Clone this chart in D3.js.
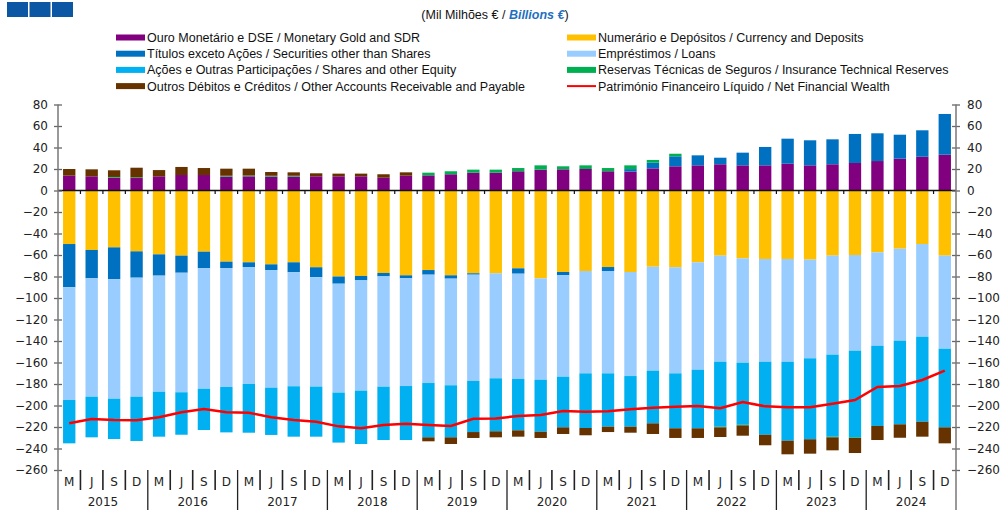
<!DOCTYPE html>
<html>
<head>
<meta charset="utf-8">
<script src="https://cdn.jsdelivr.net/npm/d3@7"></script>
<style>
  body { margin: 0; background: #fff; }
  svg { display: block; }
  .tick text { font-family: "DejaVu Sans", sans-serif; font-size: 12px; fill: #222; }
  .leg text { font-family: "Liberation Sans", Arial, sans-serif; font-size: 12.5px; fill: #111; }
</style>
</head>
<body>
<div id="chart"></div>
<script>
// quarters and years
var quarters = ["M", "J", "S", "D"];
var years = ["2015", "2016", "2017", "2018", "2019", "2020", "2021", "2022", "2023", "2024"];
var yTicks = [80, 60, 40, 20, 0, -20, -40, -60, -80, -100, -120, -140, -160, -180, -200, -220, -240, -260];

// series values (Mil Milhões €), one per quarter, 2015 M .. 2024 D
var gold = [13.8, 13.2, 11.9, 11.6, 13.2, 14.4, 14.4, 12.9, 13.2, 12.9, 12.9, 13.2, 13.2, 13.2, 11.9, 13.8, 14.1, 15.1, 16.6, 16.6,
            17.9, 19.4, 19.7, 20.0, 17.9, 17.6, 20.6, 22.5, 23.4, 24.4, 23.4, 23.4, 24.9, 23.4, 24.4, 25.6, 27.4, 29.6, 31.4, 33.3];
var currency = [-49.8, -55.3, -52.9, -56.6, -59.4, -60.6, -56.9, -66.2, -66.8, -68.7, -66.8, -71.4, -80.0, -79.5, -76.7, -78.9, -74.0, -78.9, -77.0, -77.0,
                -72.4, -81.7, -75.8, -74.9, -71.2, -75.8, -70.9, -71.4, -66.8, -60.6, -63.1, -63.7, -63.7, -64.3, -60.6, -60.0, -57.5, -54.1, -49.8, -60.6];
var securities = [-40.2, -26.4, -29.7, -24.5, -19.8, -15.9, -15.5, -5.9, -4.4, -5.3, -9.3, -9.3, -6.7, -4.1, -3.2, -2.8, -4.3, -3.1, -1.3, 0,
                  -5.0, 0, -3.1, 0, -3.7, 2.3, 5.3, 9.3, 9.3, 6.1, 11.8, 17.1, 23.3, 23.3, 23.2, 27.0, 25.8, 22.3, 24.6, 37.9];
var loans = [-104.9, -110.1, -111.1, -110.7, -108.0, -111.2, -112.0, -110.7, -108.8, -109.4, -106.0, -101.7, -101.3, -102.6, -102.6, -100.2, -100.8, -99.2, -98.9, -97.7,
             -97.9, -94.3, -94.3, -95.2, -95.2, -96.8, -96.7, -98.7, -99.9, -98.7, -97.1, -95.6, -95.6, -91.8, -92.1, -89.0, -86.9, -85.6, -86.2, -86.6];
var shares = [-40.3, -37.8, -37.5, -41.2, -41.8, -39.5, -38.4, -42.2, -45.3, -44.0, -46.9, -46.6, -46.5, -49.6, -49.6, -50.2, -50.5, -48.4, -47.5, -49.3,
              -47.8, -48.4, -47.1, -50.8, -49.6, -47.1, -49.0, -51.1, -54.5, -60.4, -57.7, -67.9, -73.4, -75.3, -76.3, -80.6, -74.6, -77.8, -79.1, -73.1];
var insurance = [0, 0, 0.7, 0.6, 0, 0, 0, 0.8, 0.7, 0.8, 0.8, 0, 0, 0, 0, 0, 2.5, 2.8, 2.8, 2.8,
                 3.0, 4.0, 2.8, 3.4, 3.0, 3.5, 2.5, 2.4, 0, -0.6, -0.6, 0, 0, 0, -0.6, -0.6, 0, 0, 0, 0];
var other = [6.2, 6.5, 6.2, 9.0, 5.8, 7.5, 6.5, 6.6, 6.4, 3.5, 3.2, 2.8, 2.5, 2.5, 3.2, 3.1, -3.7, -6.2, -5.5, -5.6,
             -5.9, -5.8, -6.2, -6.8, -5.0, -5.6, -9.9, -9.0, -9.0, -9.0, -9.6, -9.8, -12.7, -13.4, -12.1, -14.0, -13.1, -12.5, -13.9, -14.9];
var netWealth = [-216.6, -212.6, -213.5, -213.8, -211.0, -206.3, -203.3, -206.3, -206.7, -211.0, -213.5, -215.1, -219.4, -221.2, -218.1, -216.9, -218.1, -219.0, -212.3, -212.0,
                 -209.8, -208.8, -205.1, -205.7, -205.4, -203.5, -202.0, -201.1, -200.5, -202.6, -196.7, -200.8, -201.7, -201.7, -198.3, -194.9, -182.8, -181.9, -176.3, -167.6];

// stack order and colours
var keys = ["gold", "currency", "securities", "loans", "shares", "insurance", "other"];
var colors = {
  gold: "#800080", currency: "#ffc000", securities: "#0070c0", loans: "#99ccff",
  shares: "#00b0f0", insurance: "#00b050", other: "#663300"
};
var legendItems = [
  { key: "gold", label: "Ouro Monetário e DSE / Monetary Gold and SDR" },
  { key: "currency", label: "Numerário e Depósitos / Currency and Deposits" },
  { key: "securities", label: "Títulos exceto Ações / Securities other than Shares" },
  { key: "loans", label: "Empréstimos / Loans" },
  { key: "shares", label: "Ações e Outras Participações / Shares and other Equity" },
  { key: "insurance", label: "Reservas Técnicas de Seguros / Insurance Technical Reserves" },
  { key: "other", label: "Outros Débitos e Créditos / Other Accounts Receivable and Payable" },
  { key: "line", label: "Património Financeiro Líquido / Net Financial Wealth" }
];

var width = 1000, height = 510;
var left = 58, right = 956;

// build rows for d3.stack
var series = { gold: gold, currency: currency, securities: securities, loans: loans, shares: shares, insurance: insurance, other: other };
var labels = [];
years.forEach(function (yr) { quarters.forEach(function (q) { labels.push(q + " " + yr); }); });
var rows = labels.map(function (lab, i) {
  var r = { label: lab, i: i };
  keys.forEach(function (k) { r[k] = series[k][i]; });
  return r;
});

var stacked = d3.stack().keys(keys).offset(d3.stackOffsetDiverging)(rows);

var x = d3.scaleBand()
  .domain(d3.range(rows.length))
  .range([left, right])
  .paddingInner(0.45)
  .paddingOuter(0.225);
var step = x.step();

var y = d3.scaleLinear().domain([-260, 80]).range([470, 104.5]);

var svg = d3.select("#chart").append("svg")
  .attr("width", width)
  .attr("height", height);

// header blocks
svg.selectAll("rect.hdr")
  .data([0, 1, 2])
  .enter().append("rect")
  .attr("class", "hdr")
  .attr("x", function (d) { return 7 + d * 22.5; })
  .attr("y", 2)
  .attr("width", 21)
  .attr("height", 15)
  .attr("fill", "#0b57a4");

// unit title
var title = svg.append("text")
  .attr("x", 495)
  .attr("y", 19)
  .attr("text-anchor", "middle")
  .style("font-family", "Liberation Sans, Arial, sans-serif")
  .style("font-size", "12.5px")
  .attr("fill", "#111");
title.append("tspan").text("(Mil Milhões € / ");
title.append("tspan").text("Billions €").attr("fill", "#1f6fc0").style("font-style", "italic").style("font-weight", "bold");
title.append("tspan").text(")");

// legend
var leg = svg.append("g").attr("class", "leg");
legendItems.forEach(function (d, i) {
  var col = i % 2, row = Math.floor(i / 2);
  var lx = col === 0 ? 116 : 567;
  var ly = 37.5 + row * 16.2;
  var g = leg.append("g").attr("transform", "translate(" + lx + "," + ly + ")");
  if (d.key === "line") {
    g.append("line").attr("x1", 0).attr("x2", 29).attr("y1", 0).attr("y2", 0)
      .attr("stroke", "#ff0000").attr("stroke-width", 2);
  } else {
    g.append("rect").attr("x", 0).attr("y", -3).attr("width", 29).attr("height", 6)
      .attr("fill", colors[d.key]);
  }
  g.append("text").attr("x", 31).attr("y", 4.5).text(d.label);
});

// bars
svg.append("g").selectAll("g")
  .data(stacked)
  .enter().append("g")
  .attr("fill", function (d) { return colors[d.key]; })
  .selectAll("rect")
  .data(function (d) { return d; })
  .enter().append("rect")
  .attr("x", function (d) { return x(d.data.i); })
  .attr("y", function (d) { return y(Math.max(d[0], d[1])); })
  .attr("width", x.bandwidth())
  .attr("height", function (d) { return Math.abs(y(d[0]) - y(d[1])); });

// zero line with small category ticks
svg.append("line")
  .attr("x1", left).attr("x2", right)
  .attr("y1", y(0)).attr("y2", y(0))
  .attr("stroke", "#111").attr("stroke-width", 1.5);
svg.append("g").selectAll("line")
  .data(d3.range(1, rows.length))
  .enter().append("line")
  .attr("x1", function (k) { return left + k * step; })
  .attr("x2", function (k) { return left + k * step; })
  .attr("y1", y(0)).attr("y2", y(0) + 3.5)
  .attr("stroke", "#111").attr("stroke-width", 1.2);

// net financial wealth line
var line = d3.line()
  .x(function (d, i) { return x(i) + x.bandwidth() / 2; })
  .y(function (d) { return y(d); });
svg.append("path")
  .datum(netWealth)
  .attr("d", line)
  .attr("fill", "none")
  .attr("stroke", "#ff0000")
  .attr("stroke-width", 2.5);

// y axes
var yAxisL = d3.axisLeft(y).tickValues(yTicks).tickSize(4).tickPadding(7);
var yAxisR = d3.axisRight(y).tickValues(yTicks).tickSize(4).tickPadding(8);
var gL = svg.append("g").attr("transform", "translate(" + left + ",0)").call(yAxisL);
var gR = svg.append("g").attr("transform", "translate(" + right + ",0)").call(yAxisR);
[gL, gR].forEach(function (g) {
  g.select(".domain").remove();
  g.selectAll(".tick line").attr("x1", -4).attr("x2", 4).attr("stroke", "#666").attr("stroke-width", 1.3);
});
gL.selectAll(".tick text").attr("x", -10);
gR.selectAll(".tick text").attr("x", 11);

// axis lines running down to the bottom edge
[left, right].forEach(function (ax) {
  svg.append("line")
    .attr("x1", ax).attr("x2", ax)
    .attr("y1", y(80)).attr("y2", height)
    .attr("stroke", "#777").attr("stroke-width", 1.5);
});

// quarter labels and separators
var xb = svg.append("g");
xb.selectAll("text.q")
  .data(rows)
  .enter().append("text")
  .attr("class", "q")
  .attr("x", function (d) { return x(d.i) + x.bandwidth() / 2; })
  .attr("y", 486)
  .attr("text-anchor", "middle")
  .style("font-family", "DejaVu Sans, sans-serif")
  .style("font-size", "12px")
  .attr("fill", "#222")
  .text(function (d) { return quarters[d.i % 4]; });

xb.selectAll("line.sep")
  .data(d3.range(1, rows.length))
  .enter().append("line")
  .attr("class", "sep")
  .attr("x1", function (k) { return left + k * step; })
  .attr("x2", function (k) { return left + k * step; })
  .attr("y1", 470)
  .attr("y2", function (k) { return k % 4 === 0 ? height : 490; })
  .attr("stroke", "#222")
  .attr("stroke-width", function (k) { return k % 4 === 0 ? 1.3 : 1.6; });

xb.selectAll("text.yr")
  .data(years)
  .enter().append("text")
  .attr("class", "yr")
  .attr("x", function (d, j) { return left + (j * 4 + 2) * step; })
  .attr("y", 506)
  .attr("text-anchor", "middle")
  .style("font-family", "DejaVu Sans, sans-serif")
  .style("font-size", "12px")
  .attr("fill", "#222")
  .text(function (d) { return d; });
</script>
</body>
</html>
